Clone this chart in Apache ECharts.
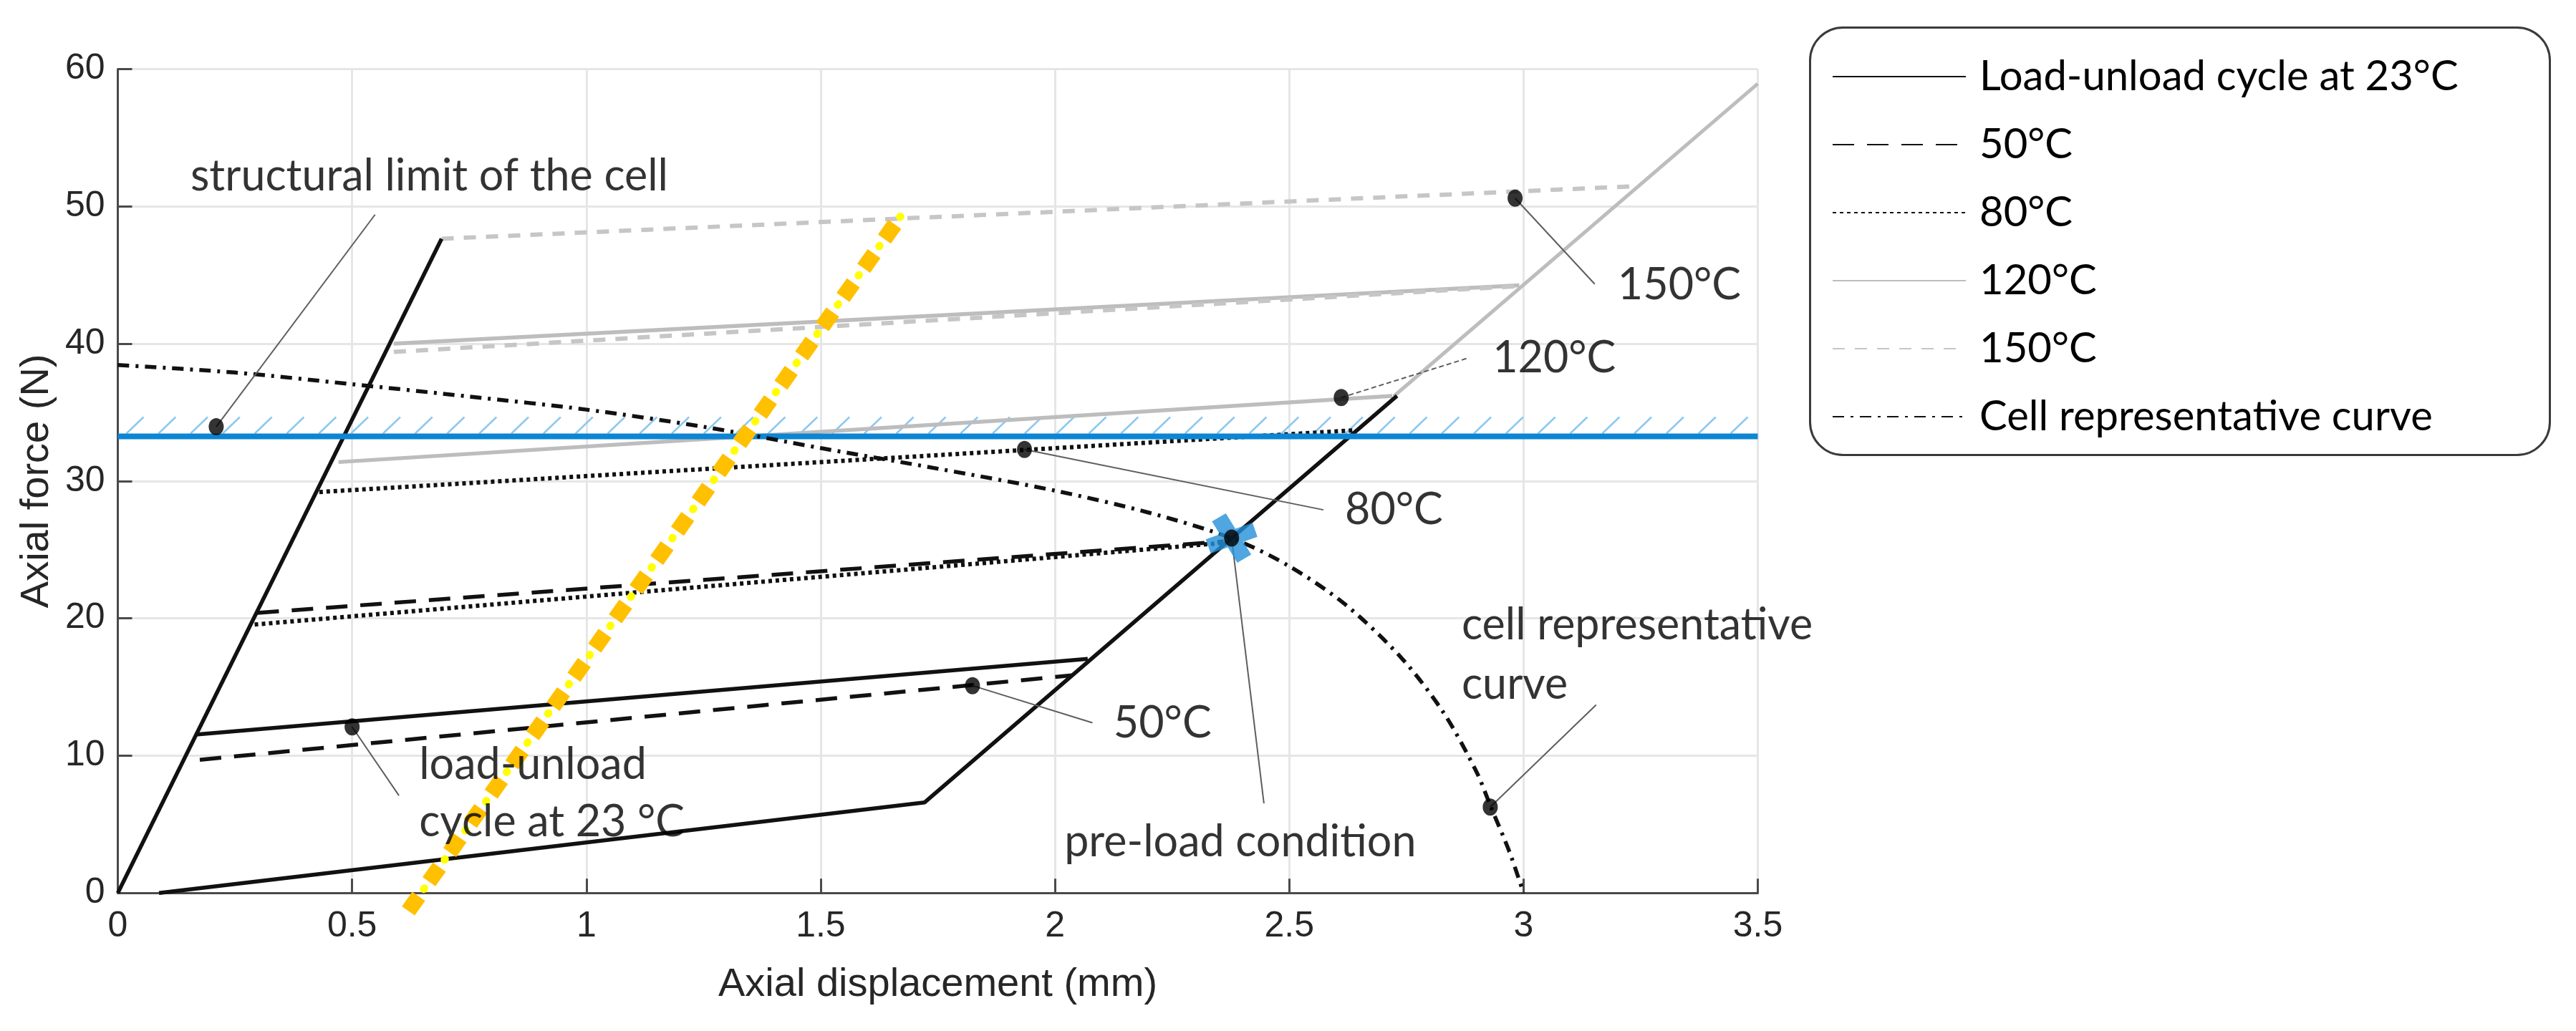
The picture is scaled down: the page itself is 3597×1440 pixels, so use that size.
<!DOCTYPE html>
<html>
<head>
<meta charset="utf-8">
<script src="https://cdn.jsdelivr.net/npm/echarts@6/dist/echarts.min.js"></script>
<style>html,body{margin:0;padding:0;background:#fff}#c{width:3597px;height:1440px}</style>
</head>
<body>
<div id="c"></div>
<script>
// ---- axes ----
const xRange = [0, 3.5], xStep = 0.5;
const yRange = [0, 60], yStep = 10;
const xTitle = 'Axial displacement (mm)';
const yTitle = 'Axial force (N)';
const legendNames = ['Load-unload cycle at 23°C', '50°C', '80°C', '120°C', '150°C', 'Cell representative curve'];

// ---- series values [displacement mm, force N] ----
const loading23 = [[0, 0], [0.691, 47.64]];
const plateau23 = [[0.17, 11.55], [2.07, 17.05]];
const unload23 = [[0.088, 0], [1.722, 6.6], [2.73, 36.2]];
const lower50 = [[0.175, 9.7], [2.036, 15.85]];
const upper50 = [[0.298, 20.4], [2.36, 25.6]];
const lower80 = [[0.292, 19.55], [2.36, 25.5]];
const upper80 = [[0.43, 29.2], [2.642, 33.7]];
const lower120 = [[0.471, 31.38], [2.72, 36.2]];
const upper120 = [[0.589, 40.0], [2.991, 44.25]];
const unload120 = [[2.723, 36.17], [3.5, 58.93]];
const lower150 = [[0.589, 39.4], [2.991, 44.2]];
const upper150 = [[0.691, 47.64], [3.235, 51.46]];
const cellCurve = [[0, 38.45], [0.25, 37.9], [0.5, 37.05], [0.75, 36.15], [1.0, 35.2], [1.25, 33.95],
  [1.5, 32.4], [1.75, 30.9], [2.0, 29.3], [2.2, 27.7], [2.38, 25.8], [2.5, 23.8], [2.62, 21.0],
  [2.74, 17.1], [2.83, 13.1], [2.9, 8.8], [2.93, 6.3], [2.97, 3.0], [3.0, 0]];
const structuralLimit = 33.25;
const limitSpan = [0, 3.5];
const yellowLine = [[0.62, -1.3], [1.672, 49.35]];
const preload = [2.377, 25.85];
const dots = [[0.21, 33.95], [2.982, 50.6], [2.611, 36.08], [1.935, 32.3], [1.824, 15.1], [0.5, 12.1], [2.929, 6.26], [2.377, 25.85]];
const leaders = [
  [[0.21, 33.95], [0.549, 49.4], false],
  [[2.982, 50.6], [3.152, 44.34], false],
  [[2.611, 36.08], [2.884, 38.98], true],
  [[1.935, 32.3], [2.573, 27.9], false],
  [[1.824, 15.1], [2.08, 12.4], false],
  [[0.5, 12.1], [0.6, 7.1], false],
  [[2.377, 25.85], [2.446, 6.53], false],
  [[2.929, 6.26], [3.155, 13.7], false]
];
const annoText = ['structural limit of the cell', '150°C', '120°C', '80°C', '50°C', 'load-unload', 'cycle at 23 °C', 'pre-load condition', 'cell representative', 'curve'];
const annoPos = [[0.155, 52.2], [3.201, 44.28], [2.934, 38.96], [2.619, 27.91], [2.125, 12.37], [0.643, 9.35], [0.643, 5.18], [2.02, 3.72], [2.868, 19.52], [2.868, 15.19]];

// ---- styles ----
const BLACK = '#111111', GRAY1 = '#bdbdbd', GRAY2 = '#c6c6c6';
function seg(name, data, color, width, type, z) {
  return { name: name, type: 'line', data: data, symbol: 'none', showSymbol: false, silent: true,
    lineStyle: { color: color, width: width, type: type, cap: 'butt' }, itemStyle: { color: color }, z: z || 2 };
}
const dash50 = [30, 18], dot80 = [5, 5], dash150 = [17, 14], dashDot = [16, 9, 4, 9];

const series = [
  seg(legendNames[0], loading23, BLACK, 5.5, 'solid', 4),
  seg(legendNames[1], upper50, BLACK, 5.5, dash50, 4),
  seg(legendNames[2], upper80, BLACK, 6, dot80, 4),
  seg(legendNames[3], upper120, GRAY1, 5.5, 'solid', 3),
  seg(legendNames[4], upper150, GRAY2, 6, dash150, 3),
  seg(legendNames[5], cellCurve, BLACK, 5.5, dashDot, 5),
  seg(legendNames[3], lower120, GRAY1, 5.5, 'solid', 3),
  seg(legendNames[3], unload120, GRAY1, 5, 'solid', 3),
  seg(legendNames[4], lower150, GRAY2, 6, dash150, 3),
  seg(legendNames[0], plateau23, BLACK, 5.5, 'solid', 4),
  seg(legendNames[0], unload23, BLACK, 5.5, 'solid', 4),
  seg(legendNames[1], lower50, BLACK, 5.5, dash50, 4),
  seg(legendNames[2], lower80, BLACK, 6, dot80, 4)
];
series[5].smooth = 0.3;

// structural limit line + hatch
series.push({ type: 'line', data: [[limitSpan[0], structuralLimit], [limitSpan[1], structuralLimit]], symbol: 'none', silent: true,
  lineStyle: { color: '#0c85d3', width: 8 }, z: 4 });
series.push({ type: 'custom', silent: true, z: 3, data: [[limitSpan[0], structuralLimit, limitSpan[1]]],
  encode: { x: [0, 2], y: 1 },
  renderItem: function (params, api) {
    const y = api.value(1);
    const a = api.coord([api.value(0), y]);
    const b = api.coord([api.value(2), y]);
    const ch = [];
    for (let x = a[0] + 12; x < b[0] - 20; x += 44.8) {
      ch.push({ type: 'line', shape: { x1: x, y1: a[1] - 4, x2: x + 24, y2: a[1] - 27 },
        style: { stroke: '#8ec8ee', lineWidth: 2.5 } });
    }
    return { type: 'group', children: ch };
  } });

// yellow/orange line
series.push({ type: 'line', data: yellowLine, symbol: 'none', silent: true, clip: false, z: 7,
  lineStyle: { color: '#ffc000', width: 22, type: [25, 25], cap: 'butt' } });
series.push({ type: 'line', data: yellowLine, symbol: 'none', silent: true, clip: false, z: 7,
  lineStyle: { color: '#ffff00', width: 11, type: [1, 49], dashOffset: 12.5, cap: 'round' } });

// leaders
leaders.forEach(function (l) {
  series.push({ type: 'line', data: [l[0], l[1]], symbol: 'none', silent: true, z: 6,
    lineStyle: { color: '#5e5e5e', width: 2, type: l[2] ? [7, 4] : 'solid' } });
});

// preload cross marker
series.push({ type: 'scatter', data: [preload], silent: true, z: 8,
  symbol: 'path://M36,-1.7L29.2,-21.7L-36,1.7L-29.2,21.7Z M8,34.7L27.4,23.3L-8,-34.7L-27.4,-23.3Z',
  symbolSize: [72, 69], itemStyle: { color: '#2390d8' } });
// dots
series.push({ type: 'scatter', data: dots, silent: true, z: 9, symbol: 'circle', symbolSize: [21, 24],
  itemStyle: { color: '#000' } });
// annotations
series.push({ type: 'scatter', silent: true, z: 9, symbolSize: 0,
  data: annoPos.map(function (p, i) { return { value: p, name: annoText[i] }; }),
  label: { show: true, position: 'right', distance: 0, formatter: '{b}',
    fontFamily: 'Lato', fontSize: 61, color: '#000' } });

const option = {
  backgroundColor: '#fff',
  animation: false,
  grid: { left: 164.5, right: 1142.5, top: 96.4, bottom: 192.7, containLabel: false },
  xAxis: {
    type: 'value', min: xRange[0], max: xRange[1], interval: xStep,
    name: xTitle, nameLocation: 'middle', nameGap: 100,
    nameTextStyle: { fontFamily: 'Liberation Sans', fontSize: 56, color: '#262626' },
    axisLine: { show: true, onZero: false, lineStyle: { color: '#4a4a4a', width: 3 } },
    axisTick: { show: true, inside: true, length: 20, lineStyle: { color: '#4a4a4a', width: 3 } },
    axisLabel: { margin: 22, fontFamily: 'Liberation Sans', fontSize: 50, color: '#262626' },
    splitLine: { show: true, lineStyle: { color: '#e6e6e6', width: 3 } }
  },
  yAxis: {
    type: 'value', min: yRange[0], max: yRange[1], interval: yStep,
    name: yTitle, nameLocation: 'middle', nameGap: 78, nameRotate: 90,
    nameTextStyle: { fontFamily: 'Liberation Sans', fontSize: 56, color: '#262626' },
    axisLine: { show: true, lineStyle: { color: '#4a4a4a', width: 3 } },
    axisTick: { show: true, inside: true, length: 20, lineStyle: { color: '#4a4a4a', width: 3 } },
    axisLabel: { margin: 18, fontFamily: 'Liberation Sans', fontSize: 50, color: '#262626' },
    splitLine: { show: true, lineStyle: { color: '#e6e6e6', width: 3 } }
  },
  legend: {
    data: legendNames, orient: 'vertical', left: 2526, top: 37, selectedMode: false,
    padding: [35, 20, 18, 32], itemWidth: 186, itemHeight: 20, itemGap: 25,
    itemStyle: { opacity: 0 },
    textStyle: { fontFamily: 'Lato', fontSize: 58, color: '#000', lineHeight: 70, padding: [0, 0, 0, 14] }
  },
  graphic: [{ type: 'rect', left: 2526, top: 37, z: -1,
    shape: { width: 1033, height: 597, r: 46 },
    style: { fill: '#fff', stroke: '#3a3a3a', lineWidth: 3 } }],
  series: series
};
const chart = echarts.init(document.getElementById('c'));
chart.setOption(option);
</script>
</body>
</html>
